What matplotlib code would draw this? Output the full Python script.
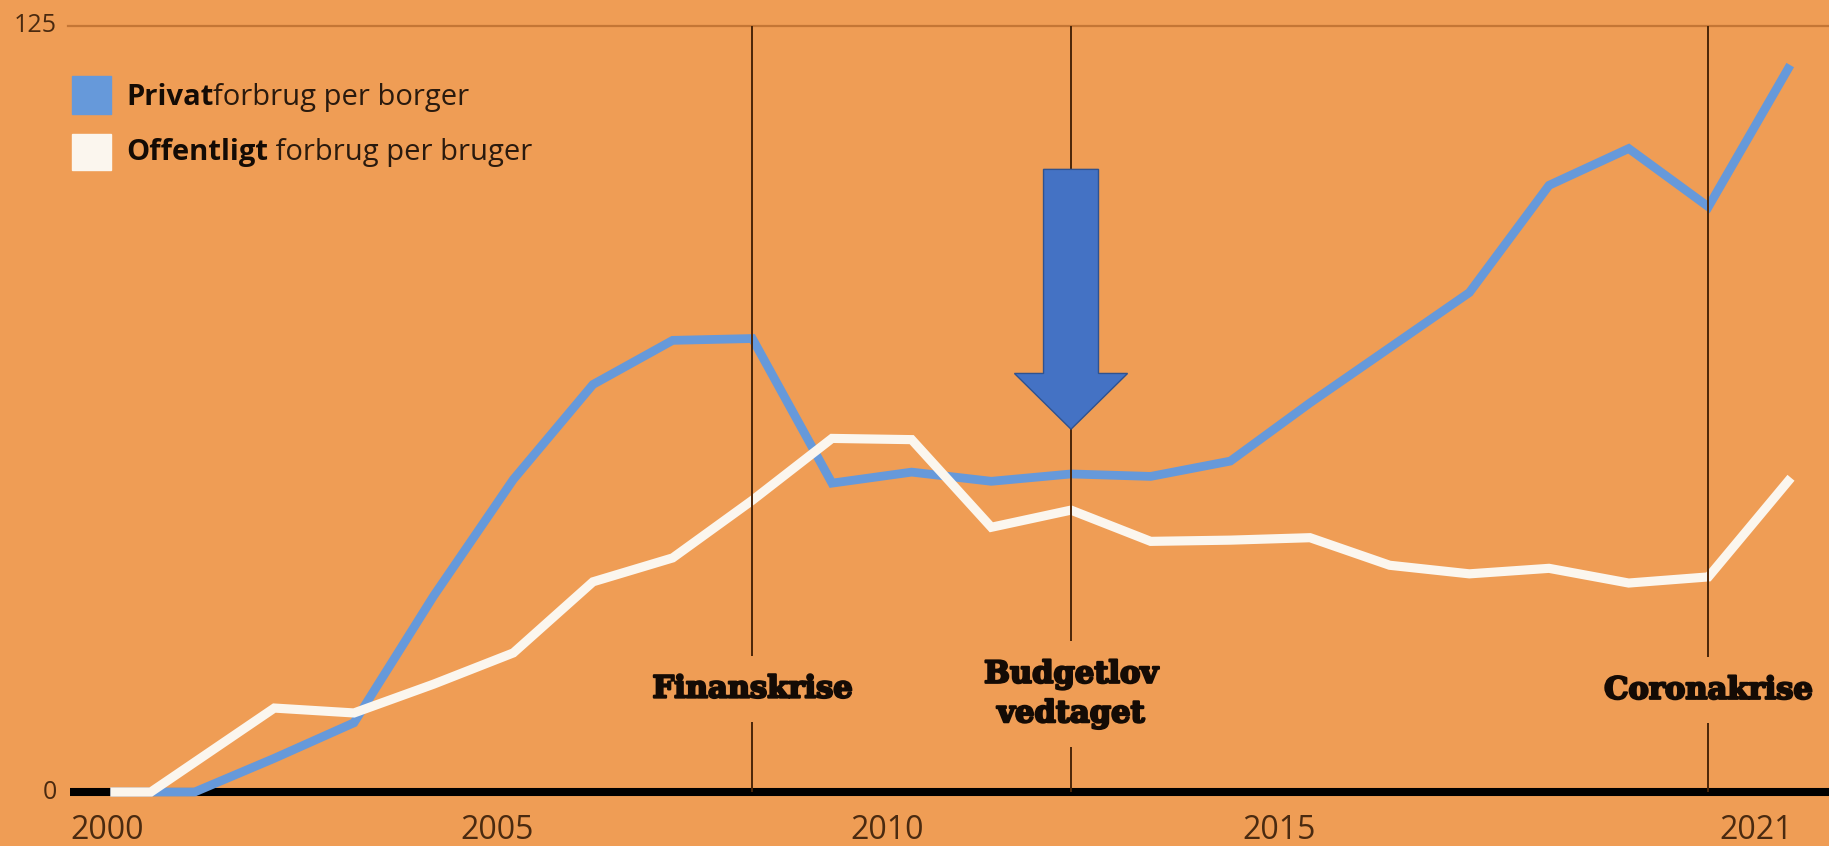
import matplotlib.pyplot as plt
import matplotlib.patheffects as pe
from matplotlib.patches import Rectangle

# Data (index)
years = list(range(2000, 2022))
privat = [0, 0, 5.5, 11.3, 32, 51, 66.5, 73.7, 74, 50.4, 52.2, 50.7,
          51.9, 51.5, 54, 63.5, 72.5, 81.5, 99, 105, 95.5, 118]

offentlig_x = [2000, 2000.45] + list(range(2002, 2022))
offentlig = [0, 0, 13.7, 12.9, 17.6, 22.7, 34.3, 38.2, 47.6, 57.7, 57.5,
             43.2, 46, 40.9, 41.1, 41.5, 37, 35.6, 36.5, 34.1, 35.1, 50.7]

event_years = [2008, 2012, 2020]
event_labels = ["Finanskrise", "Budgetlov\nvedtaget", "Coronakrise"]

tick_labels = ["2000", "2005", "2010", "2015", "2021"]
tick_pos = [1999.9, 2004.79, 2009.69, 2014.61, 2020.6]  # where the labels sit

BG = "#EF9D55"
BLUE = "#6699DA"
WHITE = "#FBF6EE"
DARK = "#4a2a10"
INK = "#140b05"

fig = plt.figure(figsize=(18.29, 8.46), dpi=100)
fig.patch.set_facecolor(BG)
ax = fig.add_axes([0, 0, 1, 1])
ax.set_facecolor(BG)
x_left, x_right = 1998.557, 2021.514
ax.set_xlim(x_left, x_right)
ax.set_ylim(-8.81, 129.24)
ax.axis("off")

# baseline and top grid line
ax.plot([1999.44, x_right], [0, 0], color="black", lw=5.8,
        solid_capstyle="butt", zorder=2)
ax.plot([1999.41, x_right], [125, 125], color="#c47635", lw=1.6, zorder=1)

# series
ax.plot(years, privat, color=BLUE, lw=6.3, solid_joinstyle="miter",
        solid_capstyle="projecting", zorder=3)
ax.plot(offentlig_x, offentlig, color=WHITE, lw=6.6, solid_joinstyle="miter",
        solid_capstyle="projecting", zorder=3.5)

# event lines with labels
ax.vlines(event_years, 0, 125, color="#4a2508", lw=1.4, zorder=4)
label_y = [16.8, 16.0, 16.6]
for yr, lab, ly in zip(event_years, event_labels, label_y):
    ax.text(yr, ly, lab, ha="center", va="center", fontsize=22,
            family="DejaVu Serif", weight="bold", color=INK, linespacing=1.35,
            bbox=dict(boxstyle="square,pad=0.57", fc=BG, ec="none"), zorder=5,
            path_effects=[pe.withStroke(linewidth=1.6, foreground=INK)])

# arrow over the budget law line
ax.arrow(event_years[1], 101.6, 0, -42.4, width=0.69, head_width=1.42,
         head_length=9.1, length_includes_head=True, fc="#4472C4",
         ec="#2F528F", lw=1, zorder=6)

# axis labels
for pos, lab in zip(tick_pos, tick_labels):
    ax.text(pos, -6.36, lab, ha="center", va="center", fontsize=23,
            family="Open Sans", color=DARK)
ax.text(1999.27, 125, "125", ha="right", va="center", fontsize=18,
        family="Open Sans", color=DARK)
ax.text(1999.27, 0, "0", ha="right", va="center", fontsize=18,
        family="Open Sans", color=DARK)

# legend
fig.patches.append(Rectangle((0.0394, 0.8652), 0.0213, 0.045, color=BLUE,
                             transform=fig.transFigure, figure=fig))
fig.patches.append(Rectangle((0.0394, 0.799), 0.0213, 0.0426, color=WHITE,
                             transform=fig.transFigure, figure=fig))
for y, bold, rest in [(0.8853, "Privat", "forbrug per borger"),
                      (0.8203, "Offentligt", " forbrug per bruger")]:
    t = fig.text(0.0689, y, bold, fontsize=21, weight="bold",
                 family="Open Sans", va="center", color=INK)
    ax.annotate(rest, xy=(1, 0), xycoords=t, va="bottom", ha="left",
                fontsize=21, family="Open Sans", color="#2a1a0e")

fig.savefig("out.png", dpi=100, facecolor=BG)
